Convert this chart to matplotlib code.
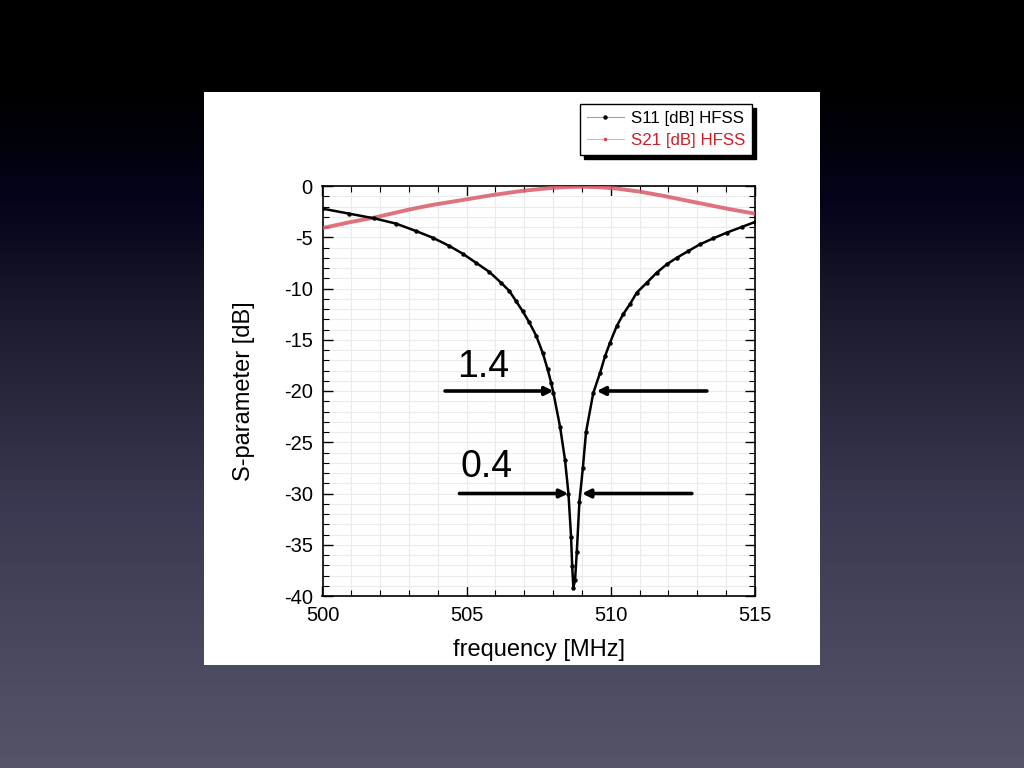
import numpy as np
import matplotlib
matplotlib.use("Agg")
import matplotlib.pyplot as plt
from matplotlib.patches import Rectangle
from matplotlib.lines import Line2D
from matplotlib.colors import LinearSegmentedColormap
from matplotlib.ticker import MultipleLocator

plt.rcParams['font.family'] = ['Liberation Sans', 'DejaVu Sans']
plt.rcParams['axes.unicode_minus'] = False

# ---- data ----
s11_freq = [500.00, 500.93, 501.80, 502.55, 503.24, 503.82, 504.40, 504.86, 505.32,
            505.79, 506.19, 506.48, 506.71, 506.94, 507.17, 507.41, 507.64, 507.81,
            507.93, 508.01, 508.24, 508.41, 508.53, 508.62, 508.66, 508.70, 508.76,
            508.82, 508.91, 509.03, 509.14, 509.39, 509.63, 509.80, 509.97, 510.20,
            510.43, 510.67, 510.90, 511.25, 511.59, 511.94, 512.29, 512.69, 513.09,
            513.56, 514.02, 514.54, 515.00]
s11_db = [-2.21, -2.70, -3.16, -3.67, -4.39, -5.04, -5.85, -6.60, -7.48,
          -8.39, -9.43, -10.24, -11.22, -12.2, -13.3, -14.6, -16.3, -17.9,
          -19.2, -20.2, -23.5, -26.7, -30.0, -34.2, -37.1, -39.2, -38.4,
          -35.7, -30.8, -27.5, -24.0, -20.2, -18.2, -16.6, -15.3, -13.7,
          -12.5, -11.5, -10.4, -9.43, -8.46, -7.64, -7.0, -6.34, -5.69,
          -5.1, -4.55, -4.0, -3.51]

s21_freq = [500.0, 501.0, 501.8, 503.0, 503.8, 505.0, 505.9, 507.0, 507.9, 508.5,
            509.0, 509.6, 510.2, 511.0, 511.8, 512.5, 513.3, 514.1, 515.0]
s21_db = [-4.1, -3.5, -3.08, -2.3, -1.85, -1.3, -0.88, -0.45, -0.2, -0.1,
          -0.07, -0.12, -0.25, -0.55, -0.95, -1.35, -1.8, -2.25, -2.7]

legend_labels = ["S11 [dB] HFSS", "S21 [dB] HFSS"]
x_ticks = [500, 505, 510, 515]
y_ticks = [0, -5, -10, -15, -20, -25, -30, -35, -40]

# bandwidth annotations
bw_labels = ["1.4", "0.4"]
bw_levels = [-20.0, -30.0]
bw_left = [(504.25, 508.01), (504.75, 508.52)]
bw_right = [(513.33, 509.51), (512.81, 509.00)]
bw_text = [(504.67, -18.6), (504.77, -28.4)]

W, H = 1024, 768
fig = plt.figure(figsize=(W / 100, H / 100), dpi=100)

# background gradient
bg = fig.add_axes([0, 0, 1, 1], zorder=-10)
stops = [(0.0, '#000000'), (90 / 768, '#000000'), (200 / 768, '#03041a'),
         (330 / 768, '#1f1d30'), (500 / 768, '#383850'), (1.0, '#55556a')]
cmap = LinearSegmentedColormap.from_list('bgg', stops)
grad = np.linspace(0, 1, 768).reshape(-1, 1)
bg.imshow(grad, aspect='auto', cmap=cmap, extent=[0, 1, 0, 1], origin='upper')
bg.add_patch(Rectangle((204 / W, 1 - 665 / H), (820 - 204) / W, (665 - 92) / H,
                       facecolor='white', edgecolor='none', transform=bg.transAxes))
bg.set_xlim(0, 1)
bg.set_ylim(0, 1)
bg.axis('off')

ax = fig.add_axes([322.5 / W, 1 - 596 / H, (755 - 322.5) / W, (596 - 186) / H])
ax.set_facecolor('white')

ax.plot(s21_freq, s21_db, color='#d95b68', lw=2.8, alpha=0.85, zorder=3,
        solid_capstyle='butt')
ax.plot(s11_freq, s11_db, color='black', lw=1.8, marker='o', ms=2.2, zorder=4)

ax.set_xlim(500, 515)
ax.set_ylim(-40, 0)
ax.set_xticks(x_ticks)
ax.set_yticks(y_ticks)
ax.xaxis.set_minor_locator(MultipleLocator(1))
ax.yaxis.set_minor_locator(MultipleLocator(1))
ax.grid(True, which='both', color='#ebebeb', lw=0.8, zorder=0)
ax.set_axisbelow(True)
ax.tick_params(which='both', direction='in', top=True, right=True, labelsize=14.5,
               colors='black')
ax.tick_params(which='major', length=7, width=1)
ax.tick_params(which='minor', length=4, width=0.8)
ax.tick_params(axis='x', pad=7)
ax.tick_params(axis='y', pad=7)
for sp in ax.spines.values():
    sp.set_linewidth(1.2)

ax.set_xlabel("frequency [MHz]", fontsize=17, labelpad=10)
ax.set_ylabel("S-parameter [dB]", fontsize=17, labelpad=21)

arrow_kw = dict(arrowstyle='-|>', lw=2.6, color='black', mutation_scale=12,
                shrinkA=0, shrinkB=0)
for lab, lvl, (lt, lh), (rt, rh), (tx, ty) in zip(bw_labels, bw_levels, bw_left, bw_right, bw_text):
    ax.annotate('', xy=(lh, lvl), xytext=(lt, lvl), arrowprops=arrow_kw, zorder=6)
    ax.annotate('', xy=(rh, lvl), xytext=(rt, lvl), arrowprops=arrow_kw, zorder=6)
    ax.text(tx, ty, lab, fontsize=27, ha='left', va='baseline', zorder=6)

handles = [Line2D([0], [0], color='#a0a0a0', lw=0.8, marker='o', ms=2.2,
                  mfc='black', mec='black'),
           Line2D([0], [0], color='#e6b0b4', lw=0.8, marker='o', ms=1.5,
                  mfc='#d04050', mec='#d04050')]
leg = fig.legend(handles, legend_labels, loc='upper right',
                 bbox_to_anchor=(752 / W, 1 - 104 / H), bbox_transform=fig.transFigure,
                 fontsize=12.2, frameon=True, fancybox=False, borderpad=0.4,
                 labelspacing=0.45, handlelength=2.2, handletextpad=0.4,
                 borderaxespad=0, labelcolor=['black', '#cc1f2a'],
                 shadow={'color': 'black', 'alpha': 1.0, 'ox': 3, 'oy': -3})
leg.get_frame().set_edgecolor('black')
leg.get_frame().set_linewidth(1.0)

fig.savefig('out.png', dpi=100)
